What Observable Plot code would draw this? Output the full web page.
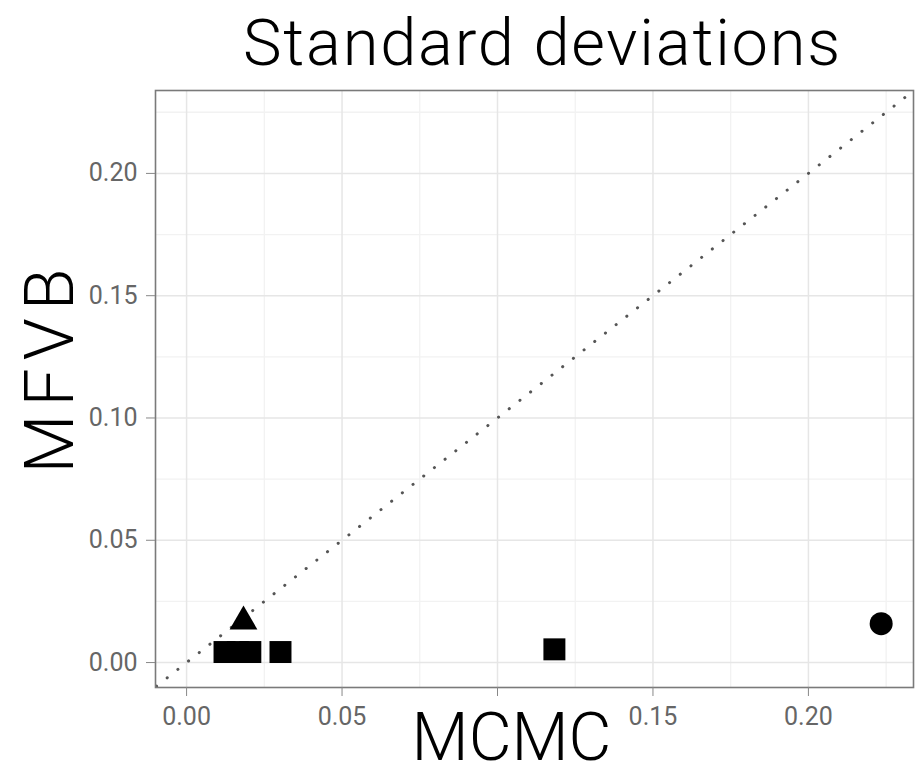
<!DOCTYPE html>
<html><head><meta charset="utf-8">
<script src="https://cdn.jsdelivr.net/npm/d3@7"></script>
<script src="https://cdn.jsdelivr.net/npm/@observablehq/plot@0.6"></script>
<style>body{margin:0;background:#fff}</style>
</head><body><div id="chart"></div>
<script>
const title = "Standard deviations";
const xTitle = "MCMC";
const yTitle = "MFVB";
const mcmc = [0.0122, 0.0165, 0.0205, 0.0302, 0.1183, 0.0183, 0.2234];
const mfvb = [0.0043, 0.0043, 0.0043, 0.0043, 0.0054, 0.0168, 0.0159];
const shape = ["square", "square", "square", "square", "square", "triangle", "circle"];
const majorTicks = [0, 0.05, 0.10, 0.15, 0.20];
const minorTicks = [0.025, 0.075, 0.125, 0.175, 0.225];
const xTickLabels = ["0.00", "0.05", "", "0.15", "0.20"];
const yTickLabels = ["0.00", "0.05", "0.10", "0.15", "0.20"];
const xDomain = [-0.0100, 0.2338];
const yDomain = [-0.0102, 0.2339];
const diagonal = [-0.02, 0.25];

const FONT = "Roboto, 'Liberation Sans', sans-serif";
const idx = d3.range(mcmc.length);
const sizes = {square: 12.4, triangle: 10.3, circle: 11.5};
const dotsFor = s => Plot.dot(idx.filter(i => shape[i] === s), {
  x: i => mcmc[i], y: i => mfvb[i], symbol: s, r: sizes[s], fill: "black", stroke: "none"
});

const chart = Plot.plot({
  width: 916, height: 777,
  marginLeft: 155, marginRight: 3, marginTop: 90, marginBottom: 90,
  x: {domain: xDomain},
  y: {domain: yDomain},
  style: {fontFamily: FONT, background: "white"},
  marks: [
    Plot.gridX(minorTicks, {stroke: "#f2f2f2", strokeOpacity: 1, strokeWidth: 1.3}),
    Plot.gridY(minorTicks, {stroke: "#f2f2f2", strokeOpacity: 1, strokeWidth: 1.3}),
    Plot.gridX(majorTicks, {stroke: "#e6e6e6", strokeOpacity: 1, strokeWidth: 1.5}),
    Plot.gridY(majorTicks, {stroke: "#e6e6e6", strokeOpacity: 1, strokeWidth: 1.5}),
    Plot.line(diagonal, {x: d => d, y: d => d, stroke: "#555", strokeWidth: 3,
      strokeDasharray: "0.1,13.5", strokeLinecap: "round", clip: true}),
    dotsFor("square"), dotsFor("triangle"), dotsFor("circle"),
    Plot.frame({stroke: "#7a7a7a", strokeWidth: 1.6}),
    Plot.axisX(majorTicks, {tickFormat: d => xTickLabels[majorTicks.indexOf(d)], tickSize: 9, tickPadding: 11,
      fontSize: 25, stroke: "#888", fill: "#666", label: null}),
    Plot.axisY(majorTicks, {tickFormat: d => yTickLabels[majorTicks.indexOf(d)], tickSize: 9, tickPadding: 9,
      fontSize: 25, stroke: "#888", fill: "#666", label: null}),
    Plot.text([title], {text: d => d, frameAnchor: "top", textAnchor: "middle", dx: 8, dy: -26, lineAnchor: "bottom",
      fontSize: 65, fontWeight: 300, fill: "black", fontFamily: FONT}),
    Plot.text([xTitle], {text: d => d, frameAnchor: "bottom", textAnchor: "middle", dx: -23, dy: 72, lineAnchor: "bottom",
      fontSize: 66, fontWeight: 300, fill: "black", fontFamily: FONT}),
    Plot.text([yTitle], {text: d => d, frameAnchor: "left", textAnchor: "middle", rotate: -90, dx: -83, dy: -22, lineAnchor: "bottom",
      fontSize: 68, fontWeight: 300, fill: "black", fontFamily: FONT})
  ]
});
const sel = d3.select(chart).selectAll("text");
sel.filter(function() { return this.textContent === title; }).attr("letter-spacing", "1.8px");
sel.filter(function() { return this.textContent === yTitle; }).attr("letter-spacing", "8px");
document.getElementById("chart").appendChild(chart);
</script>
</body></html>
